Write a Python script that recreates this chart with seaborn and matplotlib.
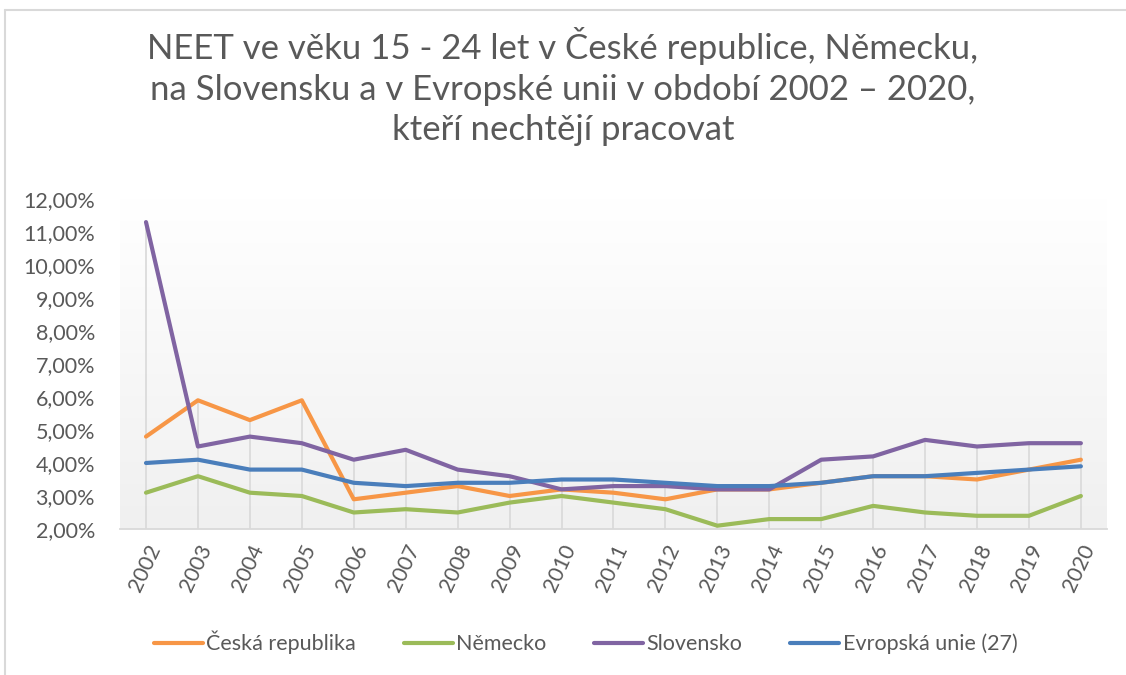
import numpy as np
import pandas as pd
import matplotlib.pyplot as plt
from matplotlib.lines import Line2D
from matplotlib.colors import LinearSegmentedColormap
from matplotlib.ticker import FuncFormatter
import seaborn as sns

years = [str(y) for y in range(2002, 2021)]
cz = [4.8, 5.9, 5.3, 5.9, 2.9, 3.1, 3.3, 3.0, 3.2, 3.1, 2.9, 3.2, 3.2, 3.4, 3.6, 3.6, 3.5, 3.8, 4.1]
de = [3.1, 3.6, 3.1, 3.0, 2.5, 2.6, 2.5, 2.8, 3.0, 2.8, 2.6, 2.1, 2.3, 2.3, 2.7, 2.5, 2.4, 2.4, 3.0]
sk = [11.3, 4.5, 4.8, 4.6, 4.1, 4.4, 3.8, 3.6, 3.2, 3.3, 3.3, 3.2, 3.2, 4.1, 4.2, 4.7, 4.5, 4.6, 4.6]
eu = [4.0, 4.1, 3.8, 3.8, 3.4, 3.3, 3.4, 3.4, 3.5, 3.5, 3.4, 3.3, 3.3, 3.4, 3.6, 3.6, 3.7, 3.8, 3.9]
series = ['Česká republika', 'Německo', 'Slovensko', 'Evropská unie (27)']
colors = ['#F79646', '#9BBB59', '#8064A2', '#4A7EBB']

wide = pd.DataFrame({'rok': years, series[0]: cz, series[1]: de, series[2]: sk, series[3]: eu})
df = wide.melt(id_vars='rok', var_name='zeme', value_name='hodnota')

sns.set_style('white')
plt.rcParams['font.family'] = ['Lato', 'DejaVu Sans']
txt = '#595959'

fig = plt.figure(figsize=(11.26, 6.75), dpi=100)
ax = fig.add_axes([0.1066, 0.2163, 0.8764, 0.4889])

# gradient background of plot area
grad = np.linspace(0, 1, 256).reshape(-1, 1)
ax.imshow(grad, extent=[-0.5, 18.5, 2, 12], aspect='auto', origin='upper',
          cmap=LinearSegmentedColormap.from_list('g', ['#FFFFFF', '#F0F0F0']), zorder=0)

# drop lines from the highest point down to the axis
tops = wide[series].max(axis=1).values
ax.vlines(range(len(years)), 2, tops, color='#D9D9D9', lw=1.2, zorder=1)

sns.lineplot(data=df, x='rok', y='hodnota', hue='zeme', palette=colors,
             linewidth=3.0, ax=ax, legend=False, zorder=3, sort=False)

ax.set_xlim(-0.5, 18.5)
ax.set_ylim(2, 12)
ax.set_yticks(range(2, 13))
ax.yaxis.set_major_formatter(FuncFormatter(lambda v, p: f'{v:.2f}'.replace('.', ',') + '%'))
ax.set_xlabel('')
ax.set_ylabel('')
for s in ['top', 'right', 'left']:
    ax.spines[s].set_visible(False)
ax.spines['bottom'].set_color('#D9D9D9')
ax.spines['bottom'].set_linewidth(1.3)
ax.tick_params(axis='both', length=0, colors=txt, labelsize=15.5)
ax.tick_params(axis='x', pad=9)
ax.tick_params(axis='y', pad=18)
plt.setp(ax.get_xticklabels(), rotation=65, ha='right', rotation_mode='anchor')

fig.text(0.5, 0.96, 'NEET ve věku 15 - 24 let v České republice, Německu,\n'
         'na Slovensku a v Evropské unii v období 2002 – 2020,\n'
         'kteří nechtějí pracovat', ha='center', va='top', fontsize=25,
         color=txt, linespacing=1.33)

handles = [Line2D([0], [0], color=c, lw=3.0) for c in colors]
fig.legend(handles, series, loc='center', bbox_to_anchor=(0.52, 0.048), ncol=4,
           frameon=False, fontsize=15.5, labelcolor=txt, handlelength=2.3,
           handletextpad=0.15, columnspacing=2.2)

# chart border
fig.add_artist(Line2D([5 / 1126, 5 / 1126], [0, 1 - 10 / 675], color='#D9D9D9', lw=1.5,
                      transform=fig.transFigure))
fig.add_artist(Line2D([5 / 1126, 1], [1 - 10 / 675, 1 - 10 / 675], color='#D9D9D9', lw=1.5,
                      transform=fig.transFigure))

fig.savefig('out.png', dpi=100)
